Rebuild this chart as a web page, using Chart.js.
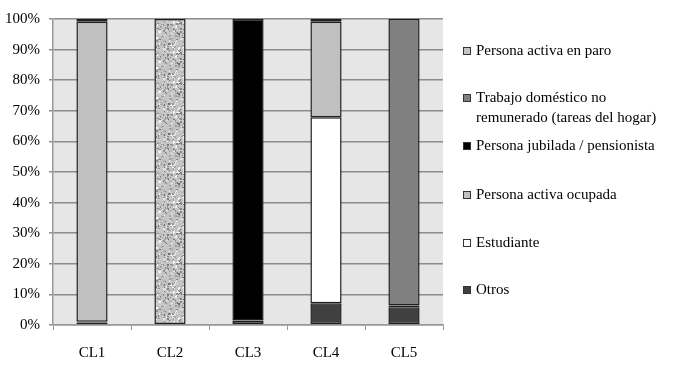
<!DOCTYPE html>
<html>
<head>
<meta charset="utf-8">
<script src="https://cdn.jsdelivr.net/npm/chart.js@4"></script>
<style>
  body { margin: 0; background: #fff; }
  #wrap { position: relative; width: 679px; height: 379px; }
  #legend { position: absolute; left: 463px; top: 0; font-family: "Liberation Serif", serif; font-size: 15px; color: #000; }
  .item { position: absolute; left: 0; white-space: nowrap; line-height: 20px; }
  .box { position: absolute; left: 0; top: 7px; width: 6px; height: 6px; border: 1px solid #333; }
  .txt { position: absolute; left: 13px; top: 0; }
</style>
</head>
<body>
<div id="wrap">
  <canvas id="chart" width="679" height="379"></canvas>
  <div id="legend"></div>
</div>
<script>
const categories = ["CL1", "CL2", "CL3", "CL4", "CL5"];

// stacked bottom -> top
const otros       = [0.8, 0.3, 1.5, 7.1, 5.8];
const estudiante  = [0.3, null, null, 60.8, null];
const ocupada     = [98.0, null, null, 31.2, null];
const jubilada    = [0.9, null, 98.5, 0.9, 0.6];
const domestico   = [null, null, null, null, 93.6];
const paro        = [null, 99.7, null, null, null];

const yTicks = [0, 10, 20, 30, 40, 50, 60, 70, 80, 90, 100];

// speckled texture for "Persona activa en paro"
function makeTexture() {
  const c = document.createElement("canvas");
  c.width = 30; c.height = 30;
  const g = c.getContext("2d");
  let seed = 12345;
  const next = () => { seed = (seed * 1103515245 + 12345) & 0x7fffffff; return seed / 0x7fffffff; };
  g.fillStyle = "#c4c4c4";
  g.fillRect(0, 0, 30, 30);
  for (let i = 0; i < 260; i++) {
    const v = Math.round(110 + next() * 140);
    g.fillStyle = `rgb(${v},${v},${v})`;
    g.fillRect(Math.floor(next() * 30), Math.floor(next() * 30), 1 + Math.floor(next() * 2), 1 + Math.floor(next() * 2));
  }
  return g.createPattern(c, "repeat");
}

const ctx = document.getElementById("chart");
const texture = makeTexture();

const series = [
  { label: "Otros", data: otros, color: "#404040" },
  { label: "Estudiante", data: estudiante, color: "#ffffff" },
  { label: "Persona activa ocupada", data: ocupada, color: "#c0c0c0" },
  { label: "Persona jubilada / pensionista", data: jubilada, color: "#000000" },
  { label: ["Trabajo doméstico no", "remunerado (tareas del hogar)"], data: domestico, color: "#808080" },
  { label: "Persona activa en paro", data: paro, color: texture, legendColor: "#c4c4c4" }
];

const plotBg = {
  id: "plotBg",
  beforeDraw(chart) {
    const a = chart.chartArea;
    const c = chart.ctx;
    c.save();
    c.fillStyle = "#e6e6e6";
    c.fillRect(a.left, a.top, a.right - a.left, a.bottom - a.top);
    c.restore();
  }
};

new Chart(ctx, {
  type: "bar",
  data: {
    labels: categories,
    datasets: series.map(s => ({
      label: Array.isArray(s.label) ? s.label.join(" ") : s.label,
      data: s.data,
      backgroundColor: s.color,
      borderColor: "#1e1e1e",
      borderWidth: 1.5,
      borderSkipped: false,
      barPercentage: 0.4,
      categoryPercentage: 1
    }))
  },
  options: {
    responsive: false,
    animation: false,
    layout: { padding: { top: 19, right: 236, bottom: 0, left: 2 } },
    plugins: { legend: { display: false }, tooltip: { enabled: false } },
    scales: {
      x: {
        stacked: true,
        afterFit: axis => { axis.height = 54; },
        grid: { drawOnChartArea: false, drawTicks: true, tickLength: 5, color: "#999", offset: true },
        border: { color: "#999", width: 1.5 },
        ticks: { color: "#000", font: { family: "Liberation Serif", size: 15 }, padding: 14 }
      },
      y: {
        stacked: true,
        min: 0,
        max: 100,
        afterBuildTicks: axis => { axis.ticks = yTicks.map(v => ({ value: v })); },
        afterFit: axis => { axis.width = 51; },
        grid: { color: "#8c8c8c", lineWidth: 1.5, tickLength: 4 },
        border: { color: "#999", width: 1.5 },
        ticks: { color: "#000", font: { family: "Liberation Serif", size: 15 }, padding: 9, callback: v => v + "%" }
      }
    }
  },
  plugins: [plotBg]
});

// legend (top -> bottom is the reverse of stacking)
const legendTops = [40, 87, 135, 184, 232, 279];
const legendEl = document.getElementById("legend");
[...series].reverse().forEach((s, i) => {
  const item = document.createElement("div");
  item.className = "item";
  item.style.top = legendTops[i] + "px";
  const box = document.createElement("span");
  box.className = "box";
  box.style.background = s.legendColor || s.color;
  const txt = document.createElement("span");
  txt.className = "txt";
  txt.innerHTML = (Array.isArray(s.label) ? s.label : [s.label]).join("<br>");
  item.appendChild(box);
  item.appendChild(txt);
  legendEl.appendChild(item);
});
</script>
</body>
</html>
